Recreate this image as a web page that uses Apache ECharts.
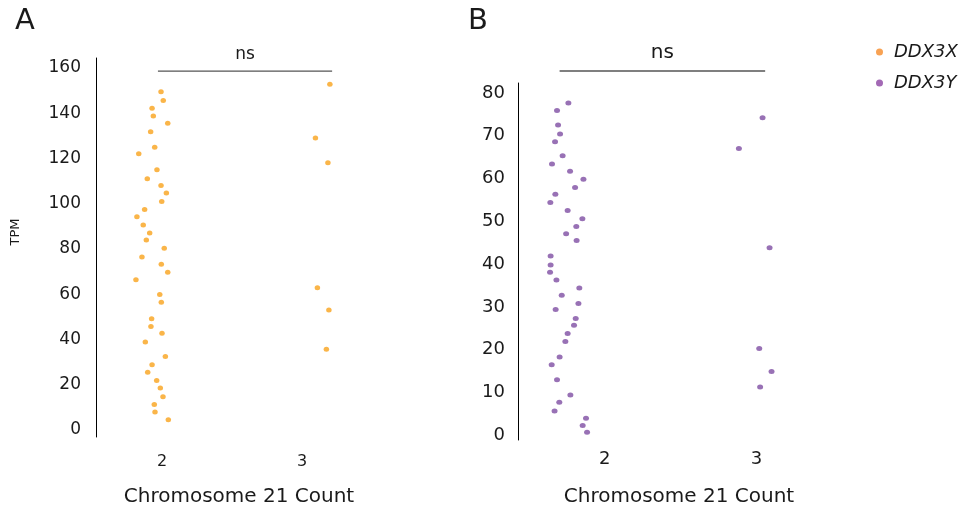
<!DOCTYPE html>
<html><head><meta charset="utf-8">
<script src="https://cdn.jsdelivr.net/npm/echarts@6/dist/echarts.min.js"></script>
<style>html,body{margin:0;padding:0;background:#fff}#chart{width:959px;height:512px}</style>
</head><body><div id="chart"></div>
<script>
// Chromosome 21 copy-number groups
const chromosomeCounts = [2, 3];

// DDX3X expression (TPM), samples with two copies of chr21
const ddx3xTpmCount2 = [148.2,144.3,140.9,137.5,134.3,130.5,123.7,120.8,113.7,109.7,106.8,103.4,99.7,96.1,92.9,89.3,85.8,82.7,79.0,75.2,72.0,68.4,65.1,58.6,55.2,47.9,44.4,41.4,37.6,31.2,27.5,24.2,20.6,17.3,13.4,10.0,6.6,3.2];
const ddx3xJitterCount2 = [-0.007,0.009,-0.071,-0.062,0.041,-0.081,-0.052,-0.166,-0.036,-0.105,-0.007,0.031,-0.002,-0.124,-0.179,-0.134,-0.088,-0.112,0.016,-0.143,-0.005,0.041,-0.186,-0.016,-0.005,-0.074,-0.079,0,-0.119,0.024,-0.071,-0.102,-0.038,-0.012,0.007,-0.055,-0.05,0.045];
// DDX3X expression (TPM), samples with three copies of chr21
const ddx3xTpmCount3 = [151.5,127.7,116.8,61.6,51.7,34.4];
const ddx3xJitterCount3 = [0.198,0.095,0.184,0.109,0.191,0.173];

// DDX3Y expression (TPM), two copies
const ddx3yTpmCount2 = [76.9,75.2,71.8,69.7,67.9,64.6,62.7,61.0,59.1,57.2,55.6,53.7,51.8,49.9,48.1,46.4,44.8,41.2,39.1,37.4,35.6,33.7,32.0,30.1,28.7,26.6,25.0,23.1,21.2,17.6,15.8,12.3,8.7,7.0,5.0,3.3,1.6,0.0];
const ddx3yJitterCount2 = [-0.239,-0.314,-0.307,-0.294,-0.327,-0.277,-0.347,-0.228,-0.140,-0.195,-0.325,-0.358,-0.244,-0.147,-0.187,-0.254,-0.185,-0.356,-0.356,-0.360,-0.318,-0.167,-0.283,-0.173,-0.323,-0.191,-0.202,-0.244,-0.259,-0.297,-0.349,-0.314,-0.226,-0.299,-0.330,-0.123,-0.145,-0.116];
// DDX3Y expression (TPM), three copies
const ddx3yTpmCount3 = [73.5,66.3,43.1,19.6,14.2,10.6];
const ddx3yJitterCount3 = [0.040,-0.116,0.086,0.018,0.099,0.024];

// Tick labels
const tpmTicksX = [0,20,40,60,80,100,120,140,160];
const tpmTicksY = [0,10,20,30,40,50,60,70,80];

// Significance annotations (category units / TPM)
const sigLabel = 'ns';
const bracketA = { from: 1.971, to: 3.214, tpm: 157.3 };
const bracketB = { from: 1.703, to: 3.057, tpm: 84.4 };

const FONT = 'DejaVu Sans';
const INK = '#1a1a1a';

function jittered(tpm2, jit2, tpm3, jit3) {
  const pts = [];
  tpm2.forEach((v, i) => pts.push([chromosomeCounts[0] + jit2[i], v]));
  tpm3.forEach((v, i) => pts.push([chromosomeCounts[1] + jit3[i], v]));
  return pts;
}

const chart = echarts.init(document.getElementById('chart'), null, { renderer: 'canvas' });

function xAxisCfg(gridIndex, min, max, labelSize, labelMargin, nameGap) {
  return {
    type: 'value', gridIndex, min, max,
    axisLine: { show: false }, axisTick: { show: false }, splitLine: { show: false },
    axisLabel: { customValues: chromosomeCounts, formatter: v => String(v),
      fontFamily: FONT, fontSize: labelSize, color: INK, margin: labelMargin },
    name: 'Chromosome 21 Count', nameLocation: 'middle', nameGap,
    nameTextStyle: { fontFamily: FONT, fontSize: 20, color: INK }
  };
}
function yAxisCfg(gridIndex, min, max, ticks, labelSize, labelMargin) {
  return {
    type: 'value', gridIndex, min, max,
    axisLine: { show: true, lineStyle: { color: '#000', width: 1 } },
    axisTick: { show: false }, splitLine: { show: false },
    axisLabel: { customValues: ticks, margin: labelMargin,
      formatter: v => '{t|' + v + '}',
      rich: { t: { fontFamily: FONT, fontSize: labelSize, color: INK, padding: [6, 0, 0, 0] } } }
  };
}

chart.setOption({
  animation: false,
  backgroundColor: '#fff',
  title: [
    { text: 'A', left: 10, top: 2, textStyle: { fontFamily: FONT, fontSize: 29, fontWeight: 'normal', color: INK } },
    { text: 'B', left: 463, top: 2, textStyle: { fontFamily: FONT, fontSize: 29, fontWeight: 'normal', color: INK } }
  ],
  legend: {
    orient: 'vertical', left: 871, top: 38, itemGap: 13,
    itemWidth: 7, itemHeight: 7, icon: 'circle',
    textStyle: { fontFamily: FONT, fontSize: 18, fontStyle: 'italic', color: INK, padding: [0, 0, 0, 6] },
    data: [
      { name: 'DDX3X', itemStyle: { color: '#F68B28' } },
      { name: 'DDX3Y', itemStyle: { color: '#8C43A3' } }
    ]
  },
  grid: [
    { left: 96, top: 58, width: 286, height: 380 },
    { left: 518, top: 83, width: 322, height: 358 }
  ],
  xAxis: [
    xAxisCfg(0, 1.529, 3.57, 16, 17, 50),
    xAxisCfg(1, 1.429, 3.55, 18, 10, 47)
  ],
  yAxis: [
    yAxisCfg(0, -4.4, 163.1, tpmTicksX, 17, 15),
    yAxisCfg(1, -1.8, 81.6, tpmTicksY, 18, 13)
  ],
  series: [
    { name: 'DDX3X', type: 'scatter', xAxisIndex: 0, yAxisIndex: 0,
      symbol: 'circle', symbolSize: [5.5, 5], itemStyle: { color: '#F9A21B' },
      data: jittered(ddx3xTpmCount2, ddx3xJitterCount2, ddx3xTpmCount3, ddx3xJitterCount3) },
    { name: 'DDX3Y', type: 'scatter', xAxisIndex: 1, yAxisIndex: 1,
      symbol: 'circle', symbolSize: [6, 5], itemStyle: { color: '#7E4DA3' },
      data: jittered(ddx3yTpmCount2, ddx3yJitterCount2, ddx3yTpmCount3, ddx3yJitterCount3) }
  ]
});

// Brackets and labels positioned through each grid's scales
function bracketGraphics(gridIndex, b, fontSize) {
  const p1 = chart.convertToPixel({ gridIndex }, [b.from, b.tpm]);
  const p2 = chart.convertToPixel({ gridIndex }, [b.to, b.tpm]);
  return [
    { type: 'line', shape: { x1: p1[0], y1: p1[1], x2: p2[0], y2: p2[1] },
      style: { stroke: '#555', lineWidth: 1.4 } },
    { type: 'text', x: (p1[0] + p2[0]) / 2, y: p1[1] - 8,
      style: { text: sigLabel, align: 'center', verticalAlign: 'bottom',
        font: fontSize + 'px "' + FONT + '"', fill: INK } }
  ];
}

chart.setOption({
  graphic: [
    ...bracketGraphics(0, bracketA, 17),
    ...bracketGraphics(1, bracketB, 20),
    { type: 'text', x: 16, y: 232, rotation: Math.PI / 2,
      style: { text: 'TPM', align: 'center', verticalAlign: 'middle',
        font: '13px "' + FONT + '"', fill: INK } }
  ]
});
</script>
</body></html>
